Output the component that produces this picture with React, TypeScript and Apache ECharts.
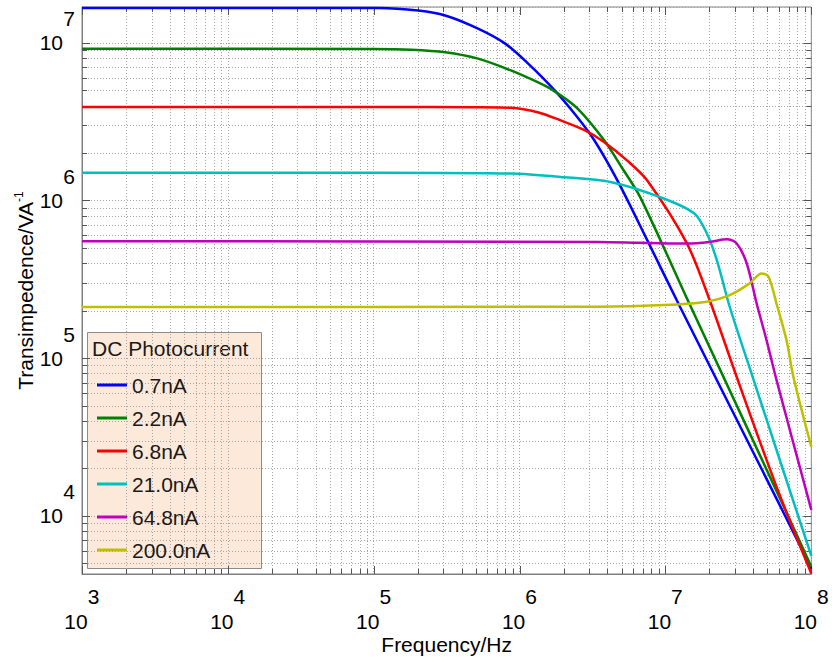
import React, { useEffect, useRef } from 'react';
import * as echarts from 'echarts';

// ---------- data ----------
const seriesNames = ['0.7nA', '2.2nA', '6.8nA', '21.0nA', '64.8nA', '200.0nA'];
const seriesColors = ['#0000ff', '#008000', '#ff0000', '#00bfbf', '#bf00bf', '#bfbf00'];

// frequency (Hz) and transimpedance (V/A) for each DC photocurrent
const freq_0p7 = [1e3, 1.08e5, 2.02e5, 3.09e5, 5.19e5, 7.93e5, 1.14e6, 1.74e6, 2.49e6, 3.26e6, 4.68e6, 7.5e6, 1.26e7, 6.44e7, 1e8];
const z_0p7 = [1.66e7, 1.66e7, 1.6e7, 1.49e7, 1.23e7, 9.91e6, 7.4e6, 4.99e6, 3.37e6, 2.4e6, 1.34e6, 5.6e5, 2.11e5, 1.05e4, 4.62e3];

const freq_2p2 = [1e3, 1.0e5, 1.81e5, 3.09e5, 5.19e5, 8.71e5, 1.33e6, 1.74e6, 2.49e6, 3.81e6, 5.06e6, 6.71e6, 1.47e7, 6.76e7, 1e8];
const z_2p2 = [9.16e6, 9.14e6, 9.04e6, 8.71e6, 7.93e6, 6.68e6, 5.62e6, 4.92e6, 3.84e6, 2.4e6, 1.6e6, 1.05e6, 2.18e5, 1.05e4, 4.76e3];

const freq_6p8 = [1e3, 1.08e5, 5.0e5, 8.71e5, 1.33e6, 1.91e6, 2.79e6, 3.81e6, 5.47e6, 7.5e6, 1.4e7, 2.01e7, 3.08e7, 5.77e7, 1e8];
const z_6p8 = [3.92e6, 3.91e6, 3.9e6, 3.87e6, 3.63e6, 3.22e6, 2.79e6, 2.34e6, 1.79e6, 1.34e6, 5.36e5, 2.33e5, 7.59e4, 1.53e4, 4.3e3];

const freq_21 = [1e3, 1.08e5, 8.71e5, 1.91e6, 4.19e6, 9.18e6, 1.57e7, 1.92e7, 2.25e7, 2.76e7, 4.02e7, 6.24e7, 1e8];
const z_21 = [1.5e6, 1.5e6, 1.48e6, 1.41e6, 1.31e6, 1.05e6, 8.3e5, 6.19e5, 4.18e5, 2.11e5, 7.28e4, 2.1e4, 5.58e3];

const freq_64p8 = [1e3, 3.41e6, 1.4e7, 2.01e7, 2.63e7, 3.08e7, 3.61e7, 4.22e7, 4.93e7, 5.77e7, 1e8];
const z_64p8 = [5.52e5, 5.46e5, 5.33e5, 5.46e5, 5.68e5, 5.33e5, 3.98e5, 2.22e5, 1.3e5, 7.28e4, 1.09e4];

const freq_200 = [1e3, 3.41e6, 9.79e6, 1.92e7, 2.76e7, 3.78e7, 4.56e7, 5.09e7, 5.77e7, 6.76e7, 7.53e7, 1e8];
const z_200 = [2.11e5, 2.12e5, 2.17e5, 2.28e5, 2.51e5, 2.98e5, 3.44e5, 3.28e5, 2.22e5, 1.3e5, 7.62e4, 2.74e4];

const seriesFreqs = [freq_0p7, freq_2p2, freq_6p8, freq_21, freq_64p8, freq_200];
const seriesZ = [z_0p7, z_2p2, z_6p8, z_21, z_64p8, z_200];

// axis ranges and tick values
const xMin = 1e3;
const xMax = 1e8;
const yMin = 4276;
const yMax = 1.686e7;
const xMajorTicks = [1e3, 1e4, 1e5, 1e6, 1e7, 1e8];
const xMinorTicks = [
  2e3, 3e3, 4e3, 5e3, 6e3, 7e3, 8e3, 9e3,
  2e4, 3e4, 4e4, 5e4, 6e4, 7e4, 8e4, 9e4,
  2e5, 3e5, 4e5, 5e5, 6e5, 7e5, 8e5, 9e5,
  2e6, 3e6, 4e6, 5e6, 6e6, 7e6, 8e6, 9e6,
  2e7, 3e7, 4e7, 5e7, 6e7, 7e7, 8e7, 9e7,
];
const yMajorTicks = [1e4, 1e5, 1e6, 1e7];
const yMinorTicks = [
  5e3, 6e3, 7e3, 8e3, 9e3,
  2e4, 3e4, 4e4, 5e4, 6e4, 7e4, 8e4, 9e4,
  2e5, 3e5, 4e5, 5e5, 6e5, 7e5, 8e5, 9e5,
  2e6, 3e6, 4e6, 5e6, 6e6, 7e6, 8e6, 9e6,
];

const xTitle = 'Frequency/Hz';
const yTitle = 'Transimpedence/VA';
const yTitleSup = '-1';
const legendTitle = 'DC Photocurrent';

// ---------- styles ----------
const FONT = '"Liberation Sans", Arial, Helvetica, sans-serif';
const FS = 21;
const GRID_COLOR = '#a6a6a6';
const TICK_COLOR = '#555555';
const AXIS_COLOR = '#808080';

const expOf = (v: number) => {
  const l = Math.log10(v);
  const e = Math.round(l);
  return Math.abs(l - e) < 1e-6 ? e : null;
};

export default function App() {
  const ref = useRef<HTMLDivElement>(null);

  useEffect(() => {
    if (!ref.current) return;
    const chart = echarts.init(ref.current, undefined, { renderer: 'svg' });

    const baseText = { fontFamily: FONT, fontSize: FS, color: '#000' };

    const xLabelRich = {
      b: { ...baseText, lineHeight: 25 },
      e: { ...baseText, lineHeight: 25 },
      sp: { ...baseText, lineHeight: 25, width: 23 },
      sp2: { ...baseText, lineHeight: 25, width: 12 },
    };
    const yLabelRich = {
      b: { ...baseText, lineHeight: 24 },
      e: { ...baseText, lineHeight: 24 },
      sp: { ...baseText, lineHeight: 24, width: 23 },
      sp2: { ...baseText, lineHeight: 24, width: 12 },
    };

    const lineSeries = seriesNames.map((name, i) => ({
      name,
      type: 'line',
      data: seriesFreqs[i].map((f, j) => [f, seriesZ[i][j]]),
      showSymbol: false,
      symbol: 'none',
      smooth: 0.3,
      lineStyle: { color: seriesColors[i], width: 2.5 },
      itemStyle: { color: seriesColors[i] },
      z: 3,
    }));

    const yRef = 1e5;
    const xRef = 1e5;
    const xTickItems = [...xMajorTicks, ...xMinorTicks].map((v) => [v, yRef]);
    const yTickItems = [...yMajorTicks, ...yMinorTicks].map((v) => [xRef, v]);

    const xGridSeries = {
      type: 'custom',
      silent: true,
      z: 1,
      data: xTickItems,
      renderItem: (params: any, api: any) => {
        const cs = params.coordSys;
        const px = Math.round(api.coord([api.value(0), yRef])[0]) + 0.5;
        const major = params.dataIndex < xMajorTicks.length;
        const len = major ? 8 : 5;
        const top = cs.y;
        const bottom = cs.y + cs.height;
        const children: any[] = [];
        if (!major) {
          children.push({
            type: 'line',
            shape: { x1: px, y1: top, x2: px, y2: bottom },
            style: { stroke: GRID_COLOR, lineWidth: 1, lineDash: [1, 2] },
          });
        }
        children.push({
          type: 'line',
          shape: { x1: px, y1: bottom, x2: px, y2: bottom - len },
          style: { stroke: TICK_COLOR, lineWidth: 1 },
        });
        children.push({
          type: 'line',
          shape: { x1: px, y1: top, x2: px, y2: top + len },
          style: { stroke: TICK_COLOR, lineWidth: 1 },
        });
        return { type: 'group', children };
      },
    };

    const yGridSeries = {
      type: 'custom',
      silent: true,
      z: 1,
      data: yTickItems,
      renderItem: (params: any, api: any) => {
        const cs = params.coordSys;
        const py = Math.round(api.coord([xRef, api.value(1)])[1]) + 0.5;
        const major = params.dataIndex < yMajorTicks.length;
        const len = major ? 8 : 5;
        const left = cs.x;
        const right = cs.x + cs.width;
        const children: any[] = [];
        if (!major) {
          children.push({
            type: 'line',
            shape: { x1: left, y1: py, x2: right, y2: py },
            style: { stroke: GRID_COLOR, lineWidth: 1, lineDash: [1, 2] },
          });
        }
        children.push({
          type: 'line',
          shape: { x1: left, y1: py, x2: left + len, y2: py },
          style: { stroke: TICK_COLOR, lineWidth: 1 },
        });
        children.push({
          type: 'line',
          shape: { x1: right, y1: py, x2: right - len, y2: py },
          style: { stroke: TICK_COLOR, lineWidth: 1 },
        });
        return { type: 'group', children };
      },
    };

    const option: any = {
      animation: false,
      grid: {
        left: 82,
        right: 17,
        top: 7,
        bottom: 87,
        show: true,
        borderColor: AXIS_COLOR,
        borderWidth: 1,
        backgroundColor: 'transparent',
      },
      xAxis: {
        type: 'log',
        logBase: 10,
        min: xMin,
        max: xMax,
        splitNumber: 5,
        axisLine: { show: true, lineStyle: { color: AXIS_COLOR, width: 1 } },
        axisTick: { show: false },
        minorTick: { show: false },
        splitLine: { show: true, lineStyle: { color: GRID_COLOR, width: 1, type: [1, 2] } },
        axisLabel: {
          margin: 10,
          formatter: (v: number) => {
            const e = expOf(v);
            if (e === null) return '';
            return `{sp| }{e|${e}}\n{b|10}{sp2| }`;
          },
          rich: xLabelRich,
          showMinLabel: true,
          showMaxLabel: true,
        },
        name: xTitle,
        nameLocation: 'middle',
        nameGap: 60,
        nameMoveOverlap: false,
        nameTextStyle: { ...baseText },
      },
      yAxis: {
        type: 'log',
        logBase: 10,
        min: yMin,
        max: yMax,
        splitNumber: 5,
        axisLine: { show: true, lineStyle: { color: AXIS_COLOR, width: 1 } },
        axisTick: { show: false },
        minorTick: { show: false },
        splitLine: { show: true, lineStyle: { color: GRID_COLOR, width: 1, type: [1, 2] } },
        axisLabel: {
          margin: 7,
          formatter: (v: number) => {
            const e = expOf(v);
            if (e === null) return '';
            return `{sp| }{e|${e}}\n{b|10}{sp2| }\n{b| }`;
          },
          rich: yLabelRich,
        },
        name: `${yTitle}{sup|${yTitleSup}}`,
        nameLocation: 'middle',
        nameGap: 45,
        nameMoveOverlap: false,
        nameTextStyle: {
          ...baseText,
          lineHeight: 24,
          rich: {
            sup: { fontFamily: FONT, fontSize: 12, color: '#000', verticalAlign: 'top', lineHeight: 14 },
          },
        },
      },
      legend: {
        data: seriesNames,
        orient: 'vertical',
        left: 97,
        top: 374,
        padding: 0,
        itemGap: 11,
        itemWidth: 30,
        itemHeight: 3,
        icon: 'rect',
        textStyle: { ...baseText, lineHeight: 22, color: '#1a1a1a' },
        selectedMode: false,
      },
      graphic: [
        {
          type: 'rect',
          left: 87,
          top: 332,
          z: -10,
          shape: { width: 174, height: 236 },
          style: { fill: '#fde9d9', stroke: '#8c8c8c', lineWidth: 1 },
          silent: true,
        },
        {
          type: 'text',
          left: 92,
          top: 338,
          style: { text: legendTitle, font: `${FS}px ${FONT}`, fill: '#1a1a1a' },
          silent: true,
        },
      ],
      series: [xGridSeries, yGridSeries, ...lineSeries],
    };

    chart.setOption(option);
    return () => chart.dispose();
  }, []);

  return (
    <div
      ref={ref}
      style={{ position: 'fixed', left: 0, top: 0, width: 832, height: 661, background: '#fff' }}
    />
  );
}
